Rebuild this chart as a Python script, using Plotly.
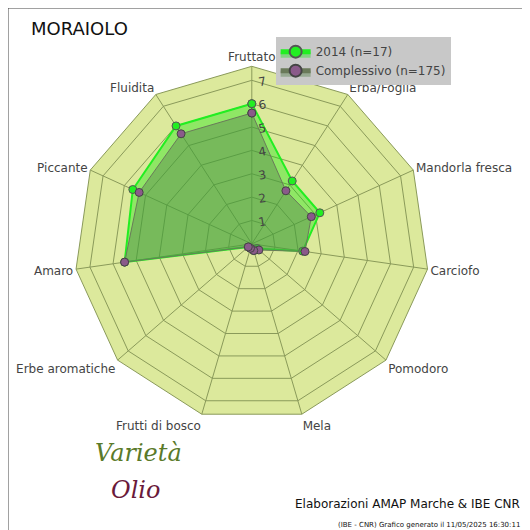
import plotly.graph_objects as go

categorie = ["Fruttato", "Erba/Foglia", "Mandorla fresca", "Carciofo", "Pomodoro", "Mela",
             "Frutti di bosco", "Erbe aromatiche", "Amaro", "Piccante", "Fluidita"]
v2014 = [6.0, 3.2, 3.2, 2.2, 0.3, 0.3, 0.2, 0.2, 5.5, 5.6, 6.0]
vtot = [5.6, 2.7, 2.8, 2.3, 0.4, 0.3, 0.2, 0.2, 5.5, 5.3, 5.6]

fig = go.Figure()
fig.add_trace(go.Scatterpolar(r=v2014 + v2014[:1], theta=categorie + categorie[:1], name="2014 (n=17)",
                              mode="lines+markers", fill="toself", fillcolor="rgba(0,230,0,0.35)",
                              line=dict(color="#22ee22", width=2),
                              marker=dict(color="#22ee22", size=8, line=dict(color="#555", width=1))))
fig.add_trace(go.Scatterpolar(r=vtot + vtot[:1], theta=categorie + categorie[:1], name="Complessivo (n=175)",
                              mode="lines+markers", fill="toself", fillcolor="rgba(90,130,80,0.45)",
                              line=dict(color="#6a7a5a", width=1),
                              marker=dict(color="#8a5a8a", size=8, symbol="circle", line=dict(color="#444", width=1))))

fig.update_layout(
    width=530, height=530, margin=dict(l=0, r=0, t=0, b=0),
    paper_bgcolor="white", font=dict(family="DejaVu Sans", size=12, color="#444"),
    polar=dict(
        domain=dict(x=[0.125, 0.795], y=[0.22, 0.89]),
        bgcolor="#dce99c", gridshape="linear",
        angularaxis=dict(direction="clockwise", rotation=90, gridcolor="#8a9a5a", linecolor="#8a9a5a",
                         tickfont=dict(size=12, color="#444")),
        radialaxis=dict(range=[0, 7.6], tickvals=[1, 2, 3, 4, 5, 6, 7], angle=80, tickangle=80,
                        gridcolor="#8a9a5a", showline=False, tickfont=dict(size=12, color="#444")),
    ),
    legend=dict(x=0.505, y=0.945, xanchor="left", yanchor="top", bgcolor="#c8c8c8",
                font=dict(size=12, color="#444"), itemsizing="constant", itemwidth=30, tracegroupgap=0),
    showlegend=True,
    annotations=[
        dict(text="MORAIOLO", x=0.04, y=0.985, xref="paper", yref="paper", xanchor="left", yanchor="top",
             showarrow=False, font=dict(size=18, color="#111")),
        dict(text="Elaborazioni AMAP Marche & IBE CNR", x=0.97, y=0.065, xref="paper", yref="paper",
             xanchor="right", yanchor="middle", showarrow=False, font=dict(size=12, color="#111")),
        dict(text="(IBE - CNR) Grafico generato il 11/05/2025 16:30:11", x=0.97, y=0.025, xref="paper",
             yref="paper", xanchor="right", yanchor="middle", showarrow=False, font=dict(size=7, color="#111")),
        dict(text="<i>Varietà</i>", x=0.16, y=0.13, xref="paper", yref="paper", showarrow=False,
             font=dict(size=24, color="#5a7a2a", family="DejaVu Serif")),
        dict(text="<i>Olio</i>", x=0.19, y=0.06, xref="paper", yref="paper", showarrow=False,
             font=dict(size=24, color="#6a1a3a", family="DejaVu Serif")),
    ],
    shapes=[dict(type="rect", xref="paper", yref="paper", x0=0, y0=0, x1=1, y1=1,
                 line=dict(color="#444", width=1))],
)

fig.write_html("out.html")
